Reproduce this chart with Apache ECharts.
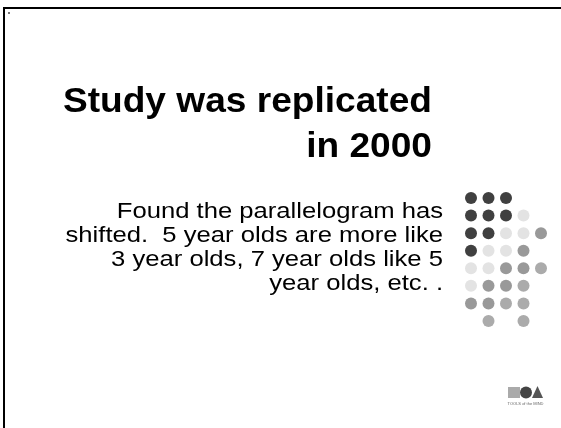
<!DOCTYPE html>
<html>
<head>
<meta charset="utf-8" />
<title>Study was replicated in 2000</title>
<script src="https://cdn.jsdelivr.net/npm/echarts@6/dist/echarts.min.js"></script>
<style>
  html, body { margin: 0; padding: 0; background: #fff; }
  #chart { width: 561px; height: 428px; }
</style>
</head>
<body>
<div id="chart"></div>
<script>
// slide text
const titleLines = ["Study was replicated", "in 2000"];
const bodyLines = [
  "Found the parallelogram has",
  "shifted.  5 year olds are more like",
  "3 year olds, 7 year olds like 5",
  "year olds, etc. .",
];

// dot grid: columns, rows and the shade of each dot ("" = no dot)
const dotColumns = [0, 1, 2, 3, 4];
const dotRows = [0, 1, 2, 3, 4, 5, 6, 7];
const dotShades = [
  ["dark", "dark", "dark", "", ""],
  ["dark", "dark", "dark", "light", ""],
  ["dark", "dark", "light", "light", "mid"],
  ["dark", "light", "light", "mid", ""],
  ["light", "light", "mid", "mid", "pale"],
  ["light", "mid", "mid", "pale", ""],
  ["mid", "mid", "pale", "pale", ""],
  ["", "pale", "", "pale", ""],
];
const shadeColors = {
  dark: "#404040",
  light: "#e3e3e3",
  mid: "#999999",
  pale: "#ababab",
};

const chart = echarts.init(document.getElementById("chart"), null, { renderer: "canvas" });

// one scatter series per shade
const series = Object.keys(shadeColors).map((shade) => {
  const data = [];
  dotRows.forEach((r) => {
    dotColumns.forEach((c) => {
      if (dotShades[r][c] === shade) data.push([c, r]);
    });
  });
  return {
    name: shade,
    type: "scatter",
    symbol: "circle",
    symbolSize: 12,
    itemStyle: { color: shadeColors[shade], opacity: 1 },
    emphasis: { disabled: true },
    silent: true,
    data: data,
  };
});

const font = "'Liberation Sans', Arial, sans-serif";

const textElems = [];
titleLines.forEach((line, i) => {
  textElems.push({
    type: "text",
    x: 432,
    y: 120 + i * 45,
    scaleX: 1.06,
    silent: true,
    style: {
      text: line,
      x: 0,
      y: 0,
      align: "right",
      verticalAlign: "bottom",
      font: "bold 35px " + font,
      fill: "#000",
    },
  });
});
bodyLines.forEach((line, i) => {
  textElems.push({
    type: "text",
    x: 443,
    y: 222.5 + i * 24.2,
    scaleX: 1.165,
    silent: true,
    style: {
      text: line,
      x: 0,
      y: 0,
      align: "right",
      verticalAlign: "bottom",
      font: "22px " + font,
      fill: "#000",
    },
  });
});

const option = {
  backgroundColor: "#fff",
  animation: false,
  grid: { left: 471, top: 198, width: 70, height: 123, containLabel: false },
  xAxis: { type: "value", min: 0, max: 4, show: false },
  yAxis: { type: "value", min: 0, max: 7, inverse: true, show: false },
  series: series,
  graphic: [
    // slide frame (top and left edges)
    { type: "rect", shape: { x: 3, y: 7, width: 558, height: 2 }, style: { fill: "#000" }, silent: true },
    { type: "rect", shape: { x: 3, y: 7, width: 2, height: 421 }, style: { fill: "#000" }, silent: true },
    { type: "rect", shape: { x: 8, y: 12, width: 2, height: 2 }, style: { fill: "#777" }, silent: true },
    // small logo
    { type: "rect", shape: { x: 508, y: 387, width: 12, height: 11 }, style: { fill: "#aaa" }, silent: true },
    { type: "circle", shape: { cx: 526, cy: 392.5, r: 6 }, style: { fill: "#444" }, silent: true },
    { type: "polygon", shape: { points: [[537.5, 386], [532, 398], [543, 398]] }, style: { fill: "#555" }, silent: true },
    {
      type: "text",
      x: 525.5,
      y: 404,
      silent: true,
      style: { text: "TOOLS of the MIND", x: 0, y: 0, align: "center", verticalAlign: "middle", font: "4px " + font, fill: "#666" },
    },
  ].concat(textElems),
};

chart.setOption(option);
</script>
</body>
</html>
